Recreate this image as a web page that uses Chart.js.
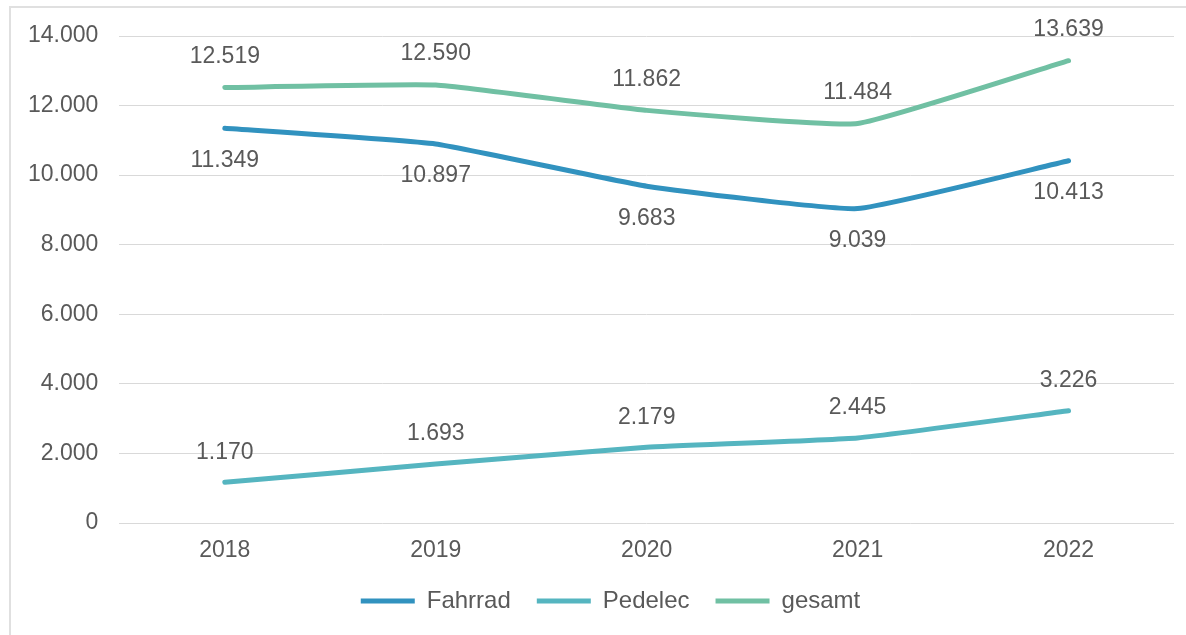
<!DOCTYPE html>
<html>
<head>
<meta charset="utf-8">
<script src="https://cdn.jsdelivr.net/npm/chart.js@4/dist/chart.umd.min.js"></script>
<style>
  body { margin: 0; background: #fff; }
  #rahmen { position: absolute; left: 9px; top: 6px; right: 0; bottom: 0; border-left: 2px solid #e0e0e0; border-top: 2px solid #e0e0e0; }
  #grafik { position: absolute; left: 0; top: 0; }
</style>
</head>
<body>
<div id="rahmen"></div>
<canvas id="grafik" width="1186" height="635"></canvas>
<script>
var jahre = ['2018', '2019', '2020', '2021', '2022']
var fahrrad = [11349, 10897, 9683, 9039, 10413]
var pedelec = [1170, 1693, 2179, 2445, 3226]
// der letzte Punkt liegt im Bild tiefer als die Beschriftung 13.639
var gesamt = [12519, 12590, 11862, 11484, 13290]
var gesamtText = ['12.519', '12.590', '11.862', '11.484', '13.639']

var schrift = 'Liberation Sans, Arial, sans-serif'
var grau = '#595959'

function zahl(v) {
    return v.toLocaleString('de-DE')
}

// Werte an die Punkte schreiben (oben oder unten)
var wertePlugin = {
    id: 'werte',
    afterLayout: function (chart) {
        // Legende etwas nach rechts wie im Original
        chart.legend.left += 20
        chart.legend.right += 20
    },
    afterDatasetsDraw: function (chart) {
        var ctx = chart.ctx
        ctx.save()
        ctx.font = '23px ' + schrift
        ctx.fillStyle = grau
        ctx.textAlign = 'center'
        ctx.textBaseline = 'middle'
        chart.data.datasets.forEach(function (ds, i) {
            var meta = chart.getDatasetMeta(i)
            meta.data.forEach(function (p, j) {
                var txt = ds.texte ? ds.texte[j] : zahl(ds.data[j])
                ctx.fillText(txt, p.x, p.y + ds.versatz)
            })
        })
        ctx.restore()
    }
}

new Chart(document.getElementById('grafik'), {
    type: 'line',
    data: {
        labels: jahre,
        datasets: [
            { label: 'Fahrrad', data: fahrrad, borderColor: '#3192bf', versatz: 32 },
            { label: 'Pedelec', data: pedelec, borderColor: '#55b5c0', versatz: -30 },
            { label: 'gesamt', data: gesamt, texte: gesamtText, borderColor: '#70c0a3', versatz: -31 }
        ].map(function (d) {
            d.backgroundColor = d.borderColor
            d.borderWidth = 5
            d.borderCapStyle = 'round'
            d.tension = 0.12
            d.pointRadius = 0
            d.fill = false
            return d
        })
    },
    options: {
        responsive: false,
        devicePixelRatio: 1,
        animation: false,
        layout: { padding: { left: 7, right: 12, top: 36, bottom: 12 } },
        scales: {
            x: {
                offset: true,
                grid: { display: false },
                border: { display: false },
                ticks: { color: grau, font: { family: schrift, size: 23 }, padding: 6 },
                afterFit: function (s) { s.height = 40 }
            },
            y: {
                min: 0,
                max: 14000,
                grid: { color: '#d9d9d9', drawTicks: false },
                border: { display: false },
                ticks: {
                    stepSize: 2000,
                    color: grau,
                    font: { family: schrift, size: 23 },
                    padding: 21,
                    callback: function (v) { return zahl(v) }
                }
            }
        },
        plugins: {
            legend: {
                position: 'bottom',
                labels: {
                    usePointStyle: true,
                    pointStyle: 'line',
                    pointStyleWidth: 54,
                    color: grau,
                    font: { family: schrift, size: 24 },
                    padding: 26
                }
            },
            tooltip: { enabled: false }
        }
    },
    plugins: [wertePlugin]
})
</script>
</body>
</html>
